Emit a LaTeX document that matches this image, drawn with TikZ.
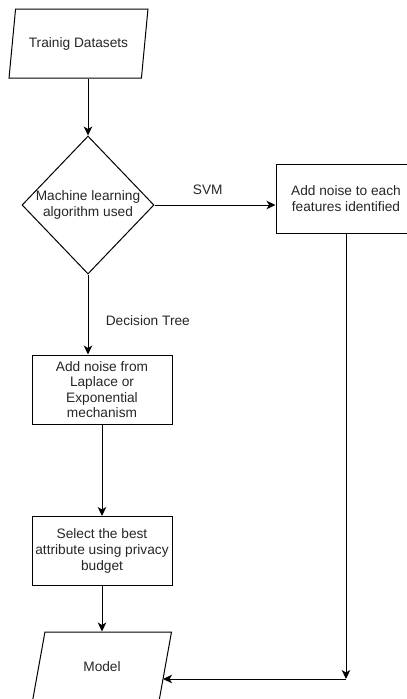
\documentclass[tikz,border=0pt]{standalone}
\usepackage{fontspec}
\setmainfont{Liberation Sans}
\usetikzlibrary{shapes.geometric,arrows.meta}
\begin{document}
\begin{tikzpicture}[x=1pt, y=-1pt, line width=1pt,
	every node/.style={font=\fontsize{13.7}{16}\selectfont, text=black!85, align=center},
	proc/.style={draw, rectangle, minimum width=140pt, minimum height=69pt, inner sep=2pt},
	io/.style={draw, trapezium, trapezium left angle=68, trapezium right angle=112, trapezium stretches=true, minimum width=139pt, minimum height=69pt, inner sep=0pt},
	choice/.style={draw, diamond, aspect=0.957, minimum width=132pt, minimum height=138pt, inner sep=0pt},
	arr/.style={-{Stealth[length=9pt, width=8.5pt, inset=2.5pt]}}]
	\useasboundingbox (0,0) rectangle (407,699);
	\clip (0,0) rectangle (407,699);
	\node[io] (data) at (78.5,43.5) {Trainig Datasets};
	\node[choice] (alg) at (88,205) {Machine learning\\algorithm used};
	\node[proc] (feat) at (346,199) {Add noise to each\\features identified};
	\node[proc, font=\fontsize{13.7}{15.5}\selectfont] (lap) at (102,389.5) {Add noise from\\Laplace or\\Exponential\\mechanism};
	\node[proc] (best) at (102,551) {Select the best\\attribute using privacy\\budget};
	\node[io] (model) at (102,666.5) {Model};
	\coordinate (turn) at (346,679);
	\draw[arr] (alg.north |- data.south) -- (alg.north);
	\draw[arr] (alg.east) -- (alg.east -| feat.west) node[pos=0.44, above=7pt]{SVM};
	\draw[arr] (alg.south) -- (alg.south |- lap.north) node[pos=0.58, right=14pt]{Decision Tree};
	\draw[arr] (lap.south) -- (best.north);
	\draw[arr] (best.south) -- (best.south |- model.north);
	\draw[arr] (feat.south) -- (turn);
	\draw[arr] (turn) -- (model.-14 |- turn);
\end{tikzpicture}
\end{document}
